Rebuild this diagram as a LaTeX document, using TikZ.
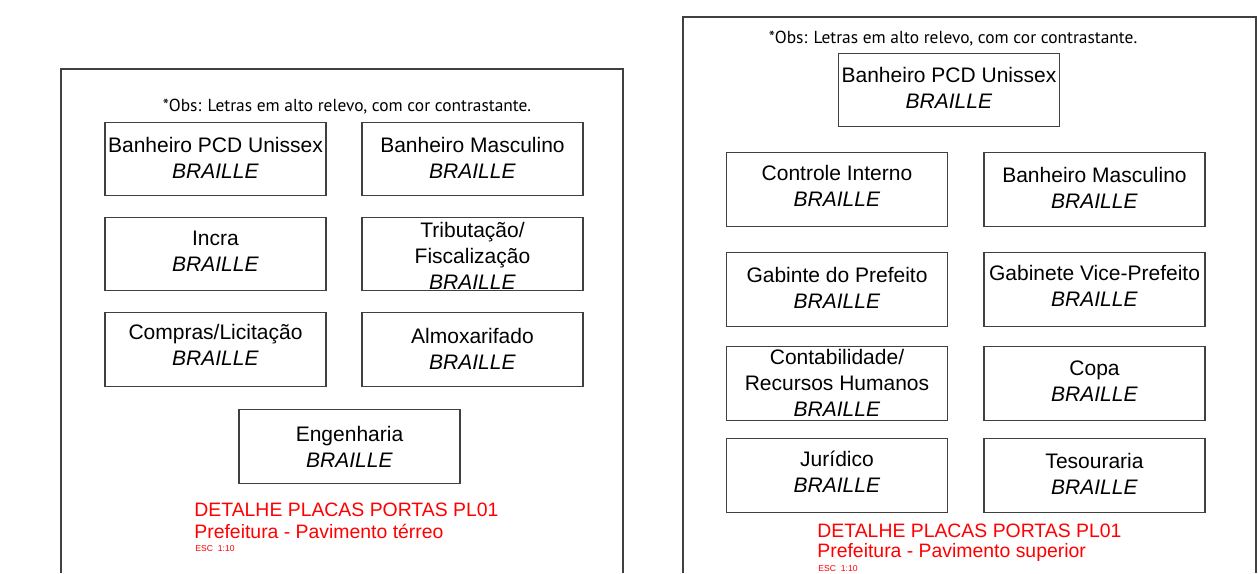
\documentclass[tikz,border=0pt]{standalone}
\usepackage{fontspec}
\setmainfont{Liberation Sans}
\newfontfamily\obsfont{PT Sans}
\usetikzlibrary{positioning}

\begin{document}
\begin{tikzpicture}[x=0.5pt, y=-0.5pt,
		placa/.style={rectangle, draw=black!75, line width=0.6pt, minimum width=110.5pt, minimum height=36.75pt, inner sep=0pt},
		rotulo/.style={align=center, inner sep=0pt, font=\fontsize{10.5}{13}\selectfont},
		obs/.style={inner sep=0pt, font=\obsfont\fontsize{8.7}{10}\selectfont},
		titulo/.style={anchor=west, inner sep=0pt, text=red, font=\fontsize{9.7}{10}\selectfont},
		escala/.style={anchor=west, inner sep=0pt, text=red, font=\fontsize{4.3}{5}\selectfont},
		moldura/.style={draw=black!75, line width=0.6pt}]
	\useasboundingbox (0,0) rectangle (1258,573);

	% Molduras
	\draw[moldura] (61,573) -- (61,69) -- (623,69) -- (623,573);
	\draw[moldura] (683,573) -- (683,17) -- (1256,17) -- (1256,573);

	%%% Pavimento terreo
	\node[obs] (obsT) at (347,107) {*Obs: Letras em alto relevo, com cor contrastante.};

	% Banheiro PCD
	\node[placa] (pcdT) at (215.5,159) {};
	\node[rotulo] (pcdTtxt) at (215.5,158) {Banheiro PCD Unissex\\\textit{BRAILLE}};

	% Banheiro masculino
	\node[placa] (mascT) at (472.5,159) {};
	\node[rotulo] (mascTtxt) at (472.5,158) {Banheiro Masculino\\\textit{BRAILLE}};

	% Incra
	\node[placa] (incra) at (215.5,254) {};
	\node[rotulo] (incratxt) at (215.5,251) {Incra\\\textit{BRAILLE}};

	% Tributacao
	\node[placa] (trib) at (472.5,254) {};
	\node[rotulo] (tribtxt) at (472.5,255.5) {Tributação/\\Fiscalização\\\textit{BRAILLE}};

	% Compras
	\node[placa] (compras) at (215.5,349.5) {};
	\node[rotulo] (comprastxt) at (215.5,345) {Compras/Licitação\\\textit{BRAILLE}};

	% Almoxarifado
	\node[placa] (almox) at (472.5,349.5) {};
	\node[rotulo] (almoxtxt) at (472.5,349) {Almoxarifado\\\textit{BRAILLE}};

	% Engenharia
	\node[placa] (eng) at (349.5,446.5) {};
	\node[rotulo] (engtxt) at (349.5,446.5) {Engenharia\\\textit{BRAILLE}};

	% Legenda
	\node[titulo] (titT) at (194,510) {DETALHE PLACAS PORTAS PL01};
	\node[titulo] (subT) at (194,531) {Prefeitura - Pavimento térreo};
	\node[escala] (escT) at (195,549) {ESC\ \ 1:10};

	%%% Pavimento superior
	\node[obs] (obsS) at (953,39) {*Obs: Letras em alto relevo, com cor contrastante.};

	% Banheiro PCD
	\node[placa] (pcdS) at (949,90) {};
	\node[rotulo] (pcdStxt) at (949,88) {Banheiro PCD Unissex\\\textit{BRAILLE}};

	% Controle interno
	\node[placa] (controle) at (837,189.5) {};
	\node[rotulo] (controletxt) at (837,186) {Controle Interno\\\textit{BRAILLE}};

	% Banheiro masculino
	\node[placa] (mascS) at (1094.5,189.5) {};
	\node[rotulo] (mascStxt) at (1094.5,188) {Banheiro Masculino\\\textit{BRAILLE}};

	% Gabinete prefeito
	\node[placa] (gab) at (837,289.5) {};
	\node[rotulo] (gabtxt) at (837,288) {Gabinte do Prefeito\\\textit{BRAILLE}};

	% Gabinete vice
	\node[placa] (vice) at (1094.5,289.5) {};
	\node[rotulo] (vicetxt) at (1094.5,286) {Gabinete Vice-Prefeito\\\textit{BRAILLE}};

	% Contabilidade
	\node[placa] (contab) at (837,383.5) {};
	\node[rotulo] (contabtxt) at (837,382.5) {Contabilidade/\\Recursos Humanos\\\textit{BRAILLE}};

	% Copa
	\node[placa] (copa) at (1094.5,383.5) {};
	\node[rotulo] (copatxt) at (1094.5,381.5) {Copa\\\textit{BRAILLE}};

	% Juridico
	\node[placa] (jur) at (837,475.5) {};
	\node[rotulo] (jurtxt) at (837,472) {Jurídico\\\textit{BRAILLE}};

	% Tesouraria
	\node[placa] (tes) at (1094.5,475.5) {};
	\node[rotulo] (testxt) at (1094.5,474) {Tesouraria\\\textit{BRAILLE}};

	% Legenda
	\node[titulo] (titS) at (817,531) {DETALHE PLACAS PORTAS PL01};
	\node[titulo] (subS) at (817,552) {Prefeitura - Pavimento superior};
	\node[escala] (escS) at (818,569) {ESC\ \ 1:10};
\end{tikzpicture}
\end{document}
